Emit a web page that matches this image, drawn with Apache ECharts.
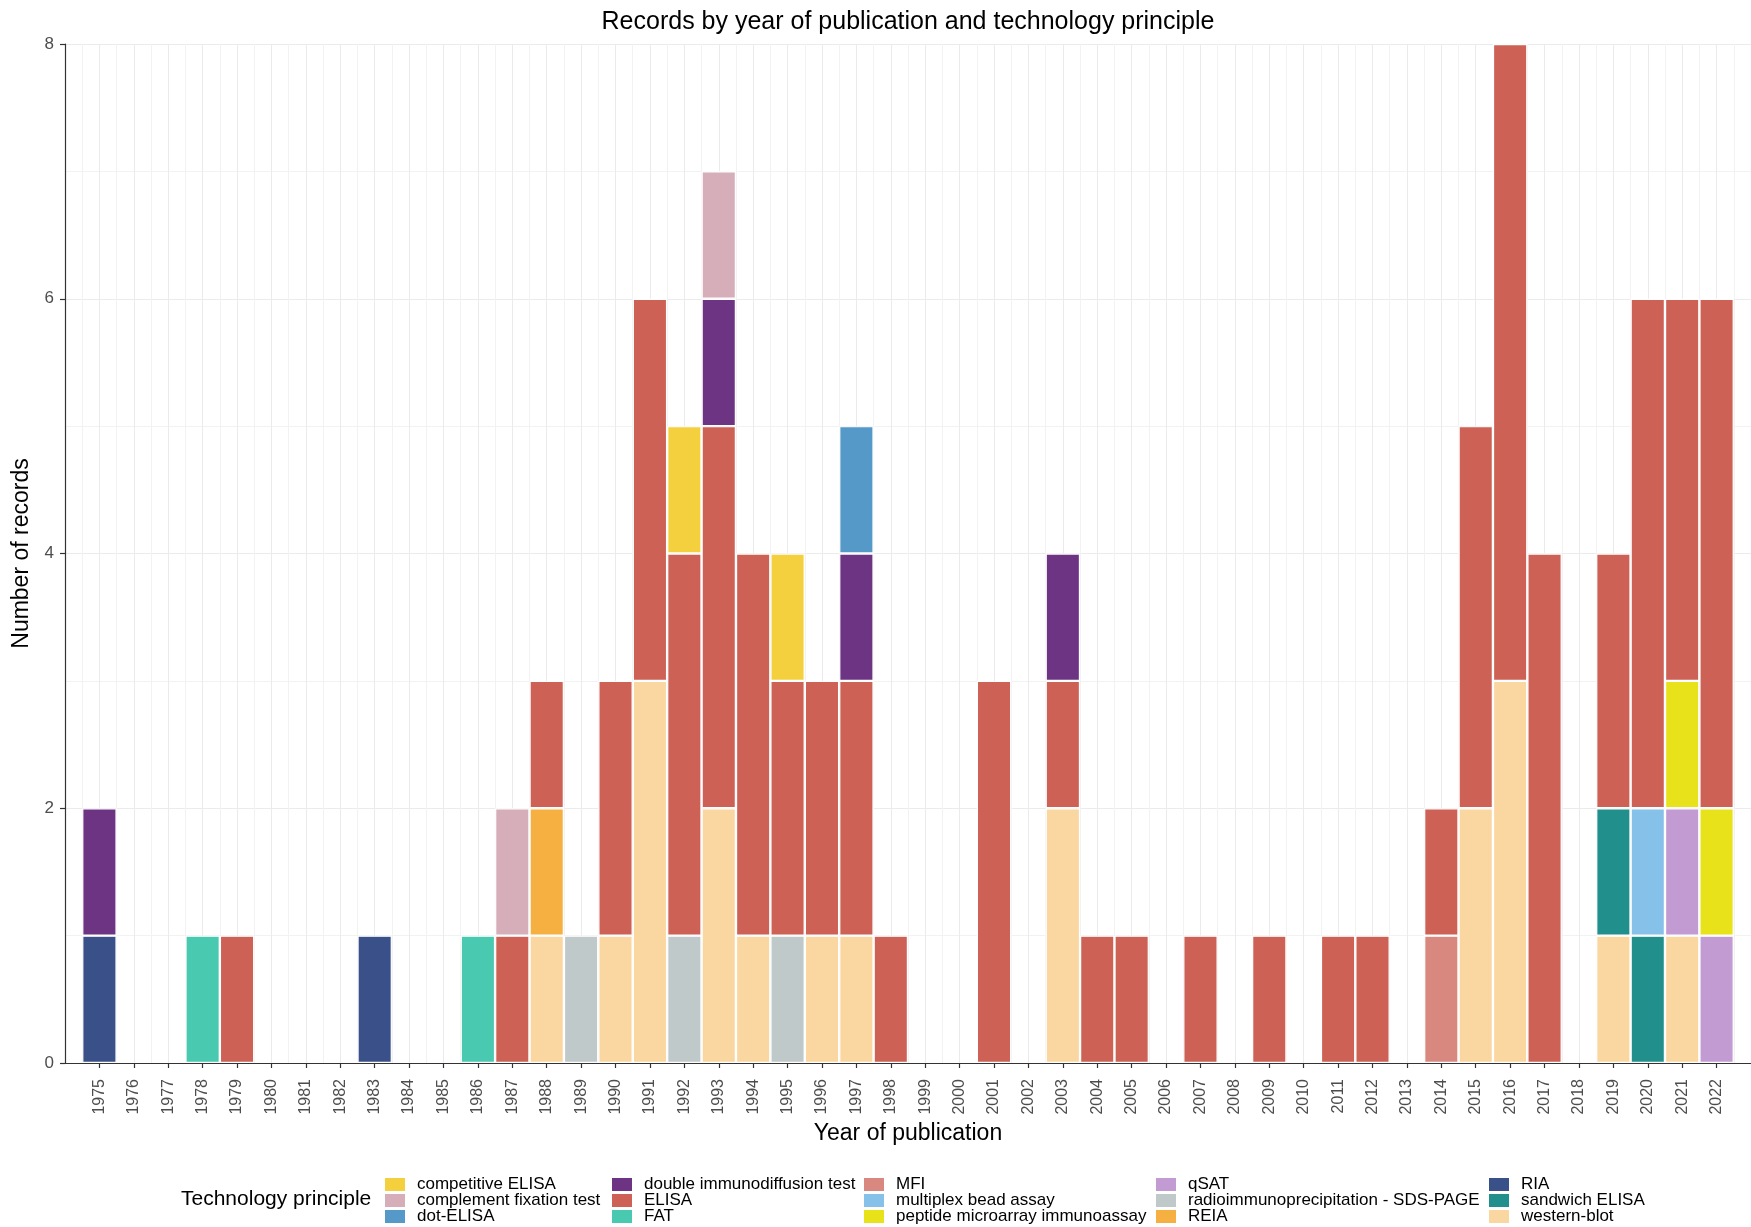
<!DOCTYPE html>
<html>
<head>
<meta charset="utf-8">
<script src="https://cdn.jsdelivr.net/npm/echarts@6/dist/echarts.min.js"></script>
<style>
html,body{margin:0;padding:0;background:#fff;}
#chart{width:1751px;height:1227px;}
</style>
</head>
<body>
<div id="chart"></div>
<script>
// Years 1975..2022
const years = [];
for (let y = 1975; y <= 2022; y++) years.push(y);

const yTicks = [0, 2, 4, 6, 8];

// counts per year, 1975..2022 (48 values each)
//                     1975-79      1980-89                  1990-99                  2000-09                  2010-19                  2020-22
const competitiveELISA = [0,0,0,0,0, 0,0,0,0,0,0,0,0,0,0, 0,0,1,0,0,1,0,0,0,0, 0,0,0,0,0,0,0,0,0,0, 0,0,0,0,0,0,0,0,0,0, 0,0,0];
const complementFixation=[0,0,0,0,0, 0,0,0,0,0,0,0,1,0,0, 0,0,0,1,0,0,0,0,0,0, 0,0,0,0,0,0,0,0,0,0, 0,0,0,0,0,0,0,0,0,0, 0,0,0];
const dotELISA =         [0,0,0,0,0, 0,0,0,0,0,0,0,0,0,0, 0,0,0,0,0,0,0,1,0,0, 0,0,0,0,0,0,0,0,0,0, 0,0,0,0,0,0,0,0,0,0, 0,0,0];
const doubleImmuno =     [1,0,0,0,0, 0,0,0,0,0,0,0,0,0,0, 0,0,0,1,0,0,0,1,0,0, 0,0,0,1,0,0,0,0,0,0, 0,0,0,0,0,0,0,0,0,0, 0,0,0];
const elisa =            [0,0,0,0,1, 0,0,0,0,0,0,0,1,1,0, 2,3,3,3,3,2,2,2,1,0, 0,3,0,1,1,1,0,1,0,1, 0,1,1,0,1,3,5,4,0,2, 4,3,4];
const fat =              [0,0,0,1,0, 0,0,0,0,0,0,1,0,0,0, 0,0,0,0,0,0,0,0,0,0, 0,0,0,0,0,0,0,0,0,0, 0,0,0,0,0,0,0,0,0,0, 0,0,0];
const mfi =              [0,0,0,0,0, 0,0,0,0,0,0,0,0,0,0, 0,0,0,0,0,0,0,0,0,0, 0,0,0,0,0,0,0,0,0,0, 0,0,0,0,1,0,0,0,0,0, 0,0,0];
const multiplex =        [0,0,0,0,0, 0,0,0,0,0,0,0,0,0,0, 0,0,0,0,0,0,0,0,0,0, 0,0,0,0,0,0,0,0,0,0, 0,0,0,0,0,0,0,0,0,0, 1,0,0];
const peptide =          [0,0,0,0,0, 0,0,0,0,0,0,0,0,0,0, 0,0,0,0,0,0,0,0,0,0, 0,0,0,0,0,0,0,0,0,0, 0,0,0,0,0,0,0,0,0,0, 0,1,1];
const qsat =             [0,0,0,0,0, 0,0,0,0,0,0,0,0,0,0, 0,0,0,0,0,0,0,0,0,0, 0,0,0,0,0,0,0,0,0,0, 0,0,0,0,0,0,0,0,0,0, 0,1,1];
const ripa =             [0,0,0,0,0, 0,0,0,0,0,0,0,0,0,1, 0,0,1,0,0,1,0,0,0,0, 0,0,0,0,0,0,0,0,0,0, 0,0,0,0,0,0,0,0,0,0, 0,0,0];
const reia =             [0,0,0,0,0, 0,0,0,0,0,0,0,0,1,0, 0,0,0,0,0,0,0,0,0,0, 0,0,0,0,0,0,0,0,0,0, 0,0,0,0,0,0,0,0,0,0, 0,0,0];
const ria =              [1,0,0,0,0, 0,0,0,1,0,0,0,0,0,0, 0,0,0,0,0,0,0,0,0,0, 0,0,0,0,0,0,0,0,0,0, 0,0,0,0,0,0,0,0,0,0, 0,0,0];
const sandwich =         [0,0,0,0,0, 0,0,0,0,0,0,0,0,0,0, 0,0,0,0,0,0,0,0,0,0, 0,0,0,0,0,0,0,0,0,0, 0,0,0,0,0,0,0,0,0,1, 1,0,0];
const western =          [0,0,0,0,0, 0,0,0,0,0,0,0,0,1,0, 1,3,0,2,1,0,1,1,0,0, 0,0,0,2,0,0,0,0,0,0, 0,0,0,0,0,2,3,0,0,1, 0,1,0];

// legend order (first = top of stack)
const techNames = ['competitive ELISA','complement fixation test','dot-ELISA','double immunodiffusion test','ELISA','FAT','MFI','multiplex bead assay','peptide microarray immunoassay','qSAT','radioimmunoprecipitation - SDS-PAGE','REIA','RIA','sandwich ELISA','western-blot'];
const techValues = [competitiveELISA, complementFixation, dotELISA, doubleImmuno, elisa, fat, mfi, multiplex, peptide, qsat, ripa, reia, ria, sandwich, western];
const techColors = ['#F4D03F','#D5AEBA','#5499C7','#6C3483','#CD6155','#48C9B0','#D98880','#85C1E9','#E8E21A','#C39BD3','#BFC9CA','#F5B041','#3A5088','#21908D','#FAD7A0'];

const FONT = "'Liberation Sans', Arial, Helvetica, sans-serif";
const gridLeft = 65, gridRight = 0, gridTop = 44, gridBottom = 164;
const W = 1751;
const catW = (W - gridLeft - gridRight) / 49;

const chart = echarts.init(document.getElementById('chart'), null, {renderer: 'canvas'});

// data as [count, year] with encode so that the stacked dimension is the count
const series = [];
for (let k = techNames.length - 1; k >= 0; k--) {
  series.push({
    name: techNames[k],
    type: 'bar',
    stack: 'total',
    barWidth: catW,
    encode: {x: 1, y: 0},
    itemStyle: {color: techColors[k], borderColor: '#ffffff', borderWidth: 1.2},
    emphasis: {disabled: true},
    data: years.map((y, i) => [techValues[k][i] ? techValues[k][i] : null, y])
  });
}

const legendCols = [383, 610, 862, 1154, 1487];
const legends = legendCols.map((x, c) => ({
  orient: 'vertical',
  left: x,
  top: 1176,
  height: 80,
  padding: 0,
  itemWidth: 22,
  itemHeight: 15,
  itemGap: -1,
  icon: 'rect',
  selectedMode: false,
  data: techNames.slice(c * 3, c * 3 + 3),
  textStyle: {fontFamily: FONT, fontSize: 17, lineHeight: 15, color: '#000', padding: [0, 0, 0, 6]}
}));

const option = {
  animation: false,
  backgroundColor: '#ffffff',
  title: [
    {
      text: 'Records by year of publication and technology principle',
      left: (gridLeft + W) / 2,
      textAlign: 'center',
      top: 10,
      padding: 0,
      textStyle: {fontFamily: FONT, fontSize: 25, fontWeight: 'normal', color: '#000'}
    },
    {
      text: 'Technology principle',
      left: 181,
      top: 1189,
      padding: 0,
      textStyle: {fontFamily: FONT, fontSize: 21, fontWeight: 'normal', color: '#000'}
    }
  ],
  legend: legends,
  grid: {left: gridLeft, right: gridRight, top: gridTop, bottom: gridBottom, containLabel: false},
  xAxis: {
    type: 'value',
    min: 1974,
    max: 2023,
    interval: 1,
    name: 'Year of publication',
    nameLocation: 'middle',
    nameGap: 53,
    nameTextStyle: {fontFamily: FONT, fontSize: 23, color: '#000'},
    axisLine: {show: true, onZero: false, lineStyle: {color: '#333333', width: 1.2}},
    axisTick: {show: true, length: 5, customValues: years, lineStyle: {color: '#333333', width: 1.2}},
    axisLabel: {customValues: years, rotate: 90, fontFamily: FONT, fontSize: 16, color: '#4D4D4D', margin: 16, formatter: v => String(v)},
    splitLine: {show: true, lineStyle: {color: '#EBEBEB', width: 1}},
    minorTick: {show: false, splitNumber: 2},
    minorSplitLine: {show: true, lineStyle: {color: '#F2F2F2', width: 1}}
  },
  yAxis: {
    type: 'value',
    min: 0,
    max: 8,
    interval: 2,
    name: 'Number of records',
    nameLocation: 'middle',
    nameGap: 26,
    nameRotate: 90,
    nameTextStyle: {fontFamily: FONT, fontSize: 23, color: '#000'},
    axisLine: {show: true, lineStyle: {color: '#333333', width: 1.2}},
    axisTick: {show: true, length: 5, lineStyle: {color: '#333333', width: 1.2}},
    axisLabel: {fontFamily: FONT, fontSize: 17, color: '#4D4D4D', margin: 11, customValues: yTicks},
    splitLine: {show: true, lineStyle: {color: '#EBEBEB', width: 1}},
    minorTick: {show: false, splitNumber: 2},
    minorSplitLine: {show: true, lineStyle: {color: '#F2F2F2', width: 1}}
  },
  series: series
};

chart.setOption(option);
</script>
</body>
</html>
